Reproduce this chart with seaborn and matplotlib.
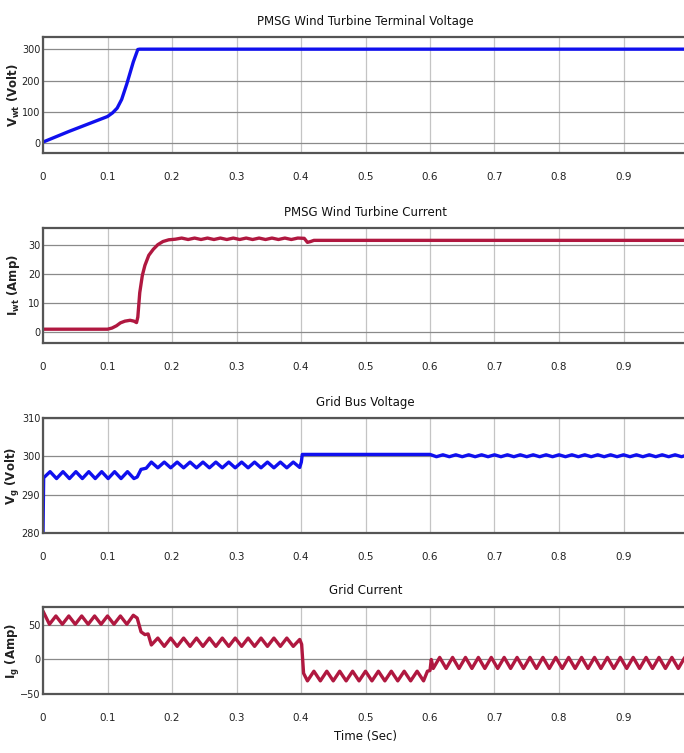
import numpy as np
import pandas as pd
import matplotlib
matplotlib.use("Agg")
import matplotlib.pyplot as plt
import seaborn as sns

# ---------------- data ----------------
titles = ["PMSG Wind Turbine Terminal Voltage", "PMSG Wind Turbine Current",
          "Grid Bus Voltage", "Grid Current"]
ylabels = [r"$\mathbf{V_{wt}}$ (Volt)", r"$\mathbf{I_{wt}}$ (Amp)",
           r"$\mathbf{V_{g}}$ (Volt)", r"$\mathbf{I_{g}}$ (Amp)"]
xticks = [0, 0.1, 0.2, 0.3, 0.4, 0.5, 0.6, 0.7, 0.8, 0.9]
xticklabels = ["0", "0.1", "0.2", "0.3", "0.4", "0.5", "0.6", "0.7", "0.8", "0.9"]
yticks_list = [[0, 100, 200, 300], [0, 10, 20, 30], [280, 290, 300, 310], [-50, 0, 50]]
ylims = [(-32, 340), (-4, 36), (280, 310), (-50, 76)]

t_vwt = [0.0, 0.02, 0.04, 0.06, 0.08, 0.1, 0.108, 0.115, 0.122, 0.13, 0.14, 0.147, 0.15, 1.0]
v_vwt = [3, 20, 37, 53, 69, 85, 97, 112, 140, 190, 260, 300, 301, 301]

t_iwt = [0.0, 0.05, 0.1, 0.107, 0.114, 0.12, 0.127, 0.135, 0.141, 0.145, 0.147, 0.150,
         0.154, 0.158, 0.164, 0.171, 0.178, 0.186, 0.195, 0.205,
         0.215, 0.225, 0.235, 0.245, 0.255, 0.265, 0.275, 0.285, 0.295, 0.305,
         0.315, 0.325, 0.335, 0.345, 0.355, 0.365, 0.375, 0.385, 0.395,
         0.405, 0.410, 0.415, 0.420, 1.0]
v_iwt = [0.8, 0.8, 0.8, 1.2, 2.0, 3.0, 3.6, 3.9, 3.6, 3.1, 5.0, 13.5,
         19.5, 23.0, 26.5, 28.6, 30.2, 31.3, 31.9, 32.1,
         32.5, 32.0, 32.5, 32.0, 32.5, 32.0, 32.5, 32.0, 32.5, 32.0,
         32.5, 32.0, 32.5, 32.0, 32.5, 32.0, 32.5, 32.0, 32.5,
         32.4, 31.0, 31.3, 31.7, 31.7]

t_vg = [0.000, 0.001, 0.011, 0.021, 0.031, 0.041, 0.051, 0.061, 0.071, 0.081, 0.091,
        0.101, 0.111, 0.121, 0.131, 0.141, 0.146, 0.152, 0.160,
        0.168, 0.178, 0.188, 0.198, 0.208, 0.218, 0.228, 0.238, 0.248, 0.258, 0.268,
        0.278, 0.288, 0.298, 0.308, 0.318, 0.328, 0.338, 0.348, 0.358, 0.368, 0.378,
        0.388, 0.398, 0.4005, 0.402, 0.600,
        0.61, 0.62, 0.63, 0.64, 0.65, 0.66, 0.67, 0.68, 0.69, 0.70,
        0.71, 0.72, 0.73, 0.74, 0.75, 0.76, 0.77, 0.78, 0.79, 0.80,
        0.81, 0.82, 0.83, 0.84, 0.85, 0.86, 0.87, 0.88, 0.89, 0.90,
        0.91, 0.92, 0.93, 0.94, 0.95, 0.96, 0.97, 0.98, 0.99, 1.00]
v_vg = [280.0, 294.4, 296.0, 294.2, 296.0, 294.2, 296.0, 294.2, 296.0, 294.2, 296.0,
        294.2, 296.0, 294.2, 296.0, 294.2, 294.6, 296.6, 296.9,
        298.5, 297.0, 298.5, 297.0, 298.5, 297.0, 298.5, 297.0, 298.5, 297.0, 298.5,
        297.0, 298.5, 297.0, 298.5, 297.0, 298.5, 297.0, 298.5, 297.0, 298.5, 297.0,
        298.5, 297.1, 298.5, 300.5, 300.5,
        299.9, 300.4, 299.9, 300.4, 299.9, 300.4, 299.9, 300.4, 299.9, 300.4,
        299.9, 300.4, 299.9, 300.4, 299.9, 300.4, 299.9, 300.4, 299.9, 300.4,
        299.9, 300.4, 299.9, 300.4, 299.9, 300.4, 299.9, 300.4, 299.9, 300.4,
        299.9, 300.4, 299.9, 300.4, 299.9, 300.4, 299.9, 300.4, 299.9, 300.4]

t_ig = [0.000, 0.010, 0.020, 0.030, 0.040, 0.050, 0.060, 0.070, 0.080, 0.090,
        0.100, 0.110, 0.120, 0.130, 0.140, 0.146, 0.152, 0.158, 0.163,
        0.168, 0.178, 0.188, 0.198, 0.208, 0.218, 0.228, 0.238, 0.248, 0.258,
        0.268, 0.278, 0.288, 0.298, 0.308, 0.318, 0.328, 0.338, 0.348, 0.358,
        0.368, 0.378, 0.388, 0.398, 0.401, 0.404,
        0.41, 0.42, 0.43, 0.44, 0.45, 0.46, 0.47, 0.48, 0.49, 0.50,
        0.51, 0.52, 0.53, 0.54, 0.55, 0.56, 0.57, 0.58, 0.59, 0.596, 0.600, 0.602,
        0.605, 0.615, 0.625, 0.635, 0.645, 0.655, 0.665, 0.675, 0.685, 0.695,
        0.705, 0.715, 0.725, 0.735, 0.745, 0.755, 0.765, 0.775, 0.785, 0.795,
        0.805, 0.815, 0.825, 0.835, 0.845, 0.855, 0.865, 0.875, 0.885, 0.895,
        0.905, 0.915, 0.925, 0.935, 0.945, 0.955, 0.965, 0.975, 0.985, 0.995, 1.0]
v_ig = [70, 51, 63, 51, 63, 51, 63, 51, 63, 51,
        63, 51, 63, 51, 64, 60, 40, 36, 37,
        21, 31, 19, 31, 19, 31, 19, 31, 19, 31,
        19, 31, 19, 31, 19, 31, 19, 31, 19, 31,
        19, 31, 19, 29, 22, -20,
        -31, -17, -31, -17, -31, -17, -31, -17, -31, -17,
        -31, -17, -31, -17, -31, -17, -31, -17, -31, -17, -16, 0,
        -13, 3, -13, 3, -13, 3, -13, 3, -13, 3,
        -13, 3, -13, 3, -13, 3, -13, 3, -13, 3,
        -13, 3, -13, 3, -13, 3, -13, 3, -13, 3,
        -13, 3, -13, 3, -13, 3, -13, 3, -13, 3, -2]

series = [(t_vwt, v_vwt, "#1010ee"), (t_iwt, v_iwt, "#b01840"),
          (t_vg, v_vg, "#1010ee"), (t_ig, v_ig, "#b01840")]

# ---------------- style ----------------
sns.set_style("white")
plt.rcParams["font.family"] = ["DejaVu Sans"]

fig = plt.figure(figsize=(6.84, 7.53), dpi=100)
H = 753.0
W = 684.0
tops = [37, 228, 418, 607]
bottoms = [153, 343, 533, 694]
left = 43 / W
width = (688 - 43) / W

for i in range(4):
    ax = fig.add_axes([left, 1 - bottoms[i] / H, width, (bottoms[i] - tops[i]) / H])
    t, v, c = series[i]
    df = pd.DataFrame({"t": t, "v": v})
    sns.lineplot(data=df, x="t", y="v", ax=ax, color=c, linewidth=2.4,
                 estimator=None, sort=False)
    ax.set_xlim(0, 1)
    ax.set_ylim(*ylims[i])
    ax.set_xticks(xticks)
    ax.set_xticklabels(xticklabels)
    ax.set_yticks(yticks_list[i])
    ax.grid(axis="x", color="#c4c4c4", linewidth=0.9)
    ax.grid(axis="y", color="#8a8a8a", linewidth=0.9)
    ax.set_axisbelow(True)
    for s in ["top", "bottom", "left"]:
        ax.spines[s].set_color("#555555")
        ax.spines[s].set_linewidth(1.6)
    ax.spines["right"].set_visible(False)
    ax.tick_params(axis="both", direction="in", length=3, labelsize=7.5,
                   colors="#333333", labelcolor="#222222", pad=14)
    ax.tick_params(axis="y", labelsize=7, pad=2)
    ax.set_title(titles[i], fontsize=8.5, pad=9, color="#111111")
    ax.set_ylabel(ylabels[i], fontsize=8.5, fontweight="bold", color="#222222")
    ax.yaxis.set_label_coords(-0.032, 0.5)
    ax.set_xlabel("")

ax.set_xlabel("Time (Sec)", fontsize=8.5, color="#111111", labelpad=5)

fig.savefig("out.png", dpi=100)
